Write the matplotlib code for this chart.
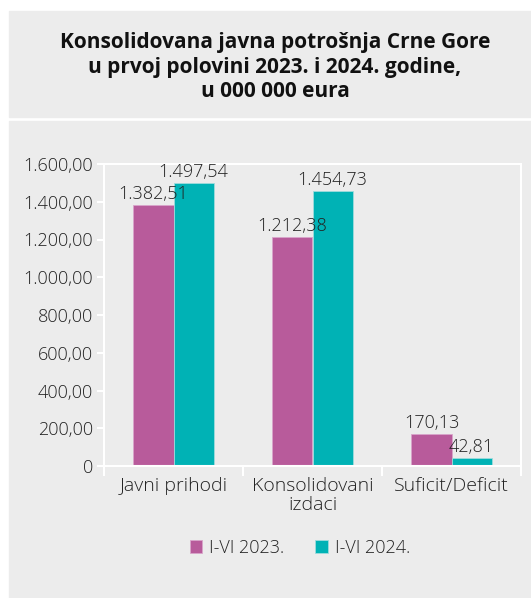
import matplotlib.pyplot as plt
from matplotlib.patches import Rectangle
from matplotlib.ticker import FuncFormatter
import numpy as np

plt.rcParams['font.family'] = ['Open Sans', 'DejaVu Sans']

categories = ['Javni prihodi', 'Konsolidovani\nizdaci', 'Suficit/Deficit']
series_names = ['I-VI 2023.', 'I-VI 2024.']
values_2023 = [1382.51, 1212.38, 170.13]
values_2024 = [1497.54, 1454.73, 42.81]
y_ticks = [0, 200, 400, 600, 800, 1000, 1200, 1400, 1600]

col_2023 = '#B85B9B'
col_2024 = '#00B2B5'
panel = '#ECECEC'


def fmt_num(v, pos=None):
    if v == 0:
        return '0'
    s = f'{v:,.2f}'
    return s.replace(',', 'X').replace('.', ',').replace('X', '.')


fig = plt.figure(figsize=(5.31, 5.98), dpi=100)
fig.patch.set_facecolor('white')

# grey panels: title box and chart box
fig.patches.append(Rectangle((9 / 531, 1 - 117 / 598), 1, 106 / 598,
                             transform=fig.transFigure, color=panel, zorder=-5))
fig.patches.append(Rectangle((9 / 531, 0), 1, 1 - 121 / 598,
                             transform=fig.transFigure, color=panel, zorder=-5))

fig.text(0.518, 1 - 67 / 598,
         'Konsolidovana javna potrošnja Crne Gore\nu prvoj polovini 2023. i 2024. godine,\nu 000 000 eura',
         ha='center', va='center', fontsize=15, fontweight='bold', color='#111111',
         linespacing=1.2)

ax = fig.add_axes([104 / 531, 1 - 466 / 598, (521 - 104) / 531, (466 - 164) / 598])
ax.set_zorder(3)
ax.set_facecolor(panel)

x = np.arange(len(categories))
w = 0.288
b1 = ax.bar(x - w / 2, values_2023, w, color=col_2023, edgecolor='#d9a5cb', linewidth=0.6,
            label=series_names[0])
b2 = ax.bar(x + w / 2, values_2024, w, color=col_2024, edgecolor='#9fdcdd', linewidth=0.6,
            label=series_names[1])

for bars in (b1, b2):
    for rect in bars:
        h = rect.get_height()
        ax.text(rect.get_x() + rect.get_width() / 2, h + 12, fmt_num(h),
                ha='center', va='bottom', fontsize=13, fontweight='light', color='#222222')

ax.set_xlim(-0.5, 2.5)
ax.set_ylim(0, 1600)
ax.set_yticks(y_ticks)
ax.yaxis.set_major_formatter(FuncFormatter(fmt_num))

ax.set_xticks(x)
ax.set_xticklabels(categories)
ax.set_xticks([-0.5, 0.5, 1.5, 2.5], minor=True)
ax.tick_params(axis='x', which='major', length=0, pad=8, labelsize=14, labelcolor='#222222')
ax.tick_params(axis='x', which='minor', length=7, width=1.5, color='white')
ax.tick_params(axis='y', length=5, width=1.5, color='white', pad=3, labelsize=13,
               labelcolor='#222222')
for lbl in ax.get_xticklabels() + ax.get_yticklabels():
    lbl.set_fontweight('light')
for lbl in ax.get_xticklabels():
    lbl.set_linespacing(1.05)

for sp in ax.spines.values():
    sp.set_color('white')
    sp.set_linewidth(1.5)

leg = fig.legend(handles=[b1, b2], labels=series_names, loc='center',
                 bbox_to_anchor=(0.565, 1 - 548 / 598), ncol=2, frameon=False,
                 fontsize=13, handlelength=0.7, handleheight=0.7, handletextpad=0.4,
                 columnspacing=1.7)
for t in leg.get_texts():
    t.set_fontweight('light')
    t.set_color('#222222')

fig.savefig('out.png', dpi=100)
